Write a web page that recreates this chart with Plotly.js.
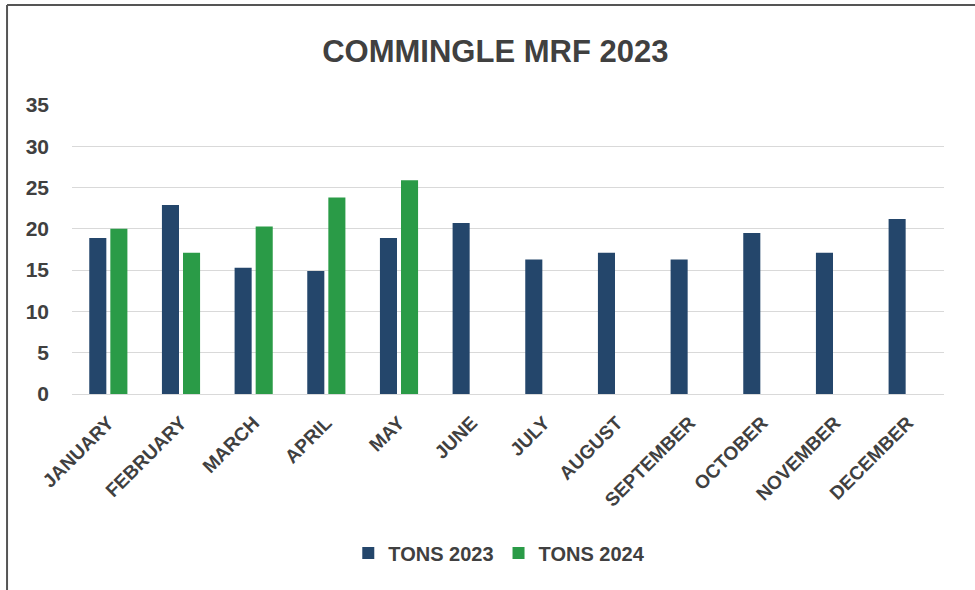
<!DOCTYPE html>
<html>
<head>
<meta charset="utf-8">
<script src="https://cdn.plot.ly/plotly-3.0.1.min.js"></script>
<style>html,body{margin:0;padding:0;background:#fff;}#chart{width:975px;height:590px;}</style>
</head>
<body>
<div id="chart"></div>
<script>
var months = ["JANUARY","FEBRUARY","MARCH","APRIL","MAY","JUNE","JULY","AUGUST","SEPTEMBER","OCTOBER","NOVEMBER","DECEMBER"];
var tons2023 = [18.9, 22.9, 15.3, 14.9, 18.9, 20.7, 16.3, 17.1, 16.3, 19.5, 17.1, 21.2];
var tons2024 = [20, 17.1, 20.3, 23.8, 25.9, null, null, null, null, null, null, null];
var yTicks = [0, 5, 10, 15, 20, 25, 30, 35];

var font = "Liberation Sans, Arial, sans-serif";
var textColor = "#404040";

var traces = [
  {type: "bar", name: "TONS 2023", x: months, y: tons2023, marker: {color: "#24466b"}, hoverinfo: "x+y"},
  {type: "bar", name: "TONS 2024", x: months, y: tons2024, marker: {color: "#2a9b47"}, hoverinfo: "x+y"}
];

var layout = {
  width: 975, height: 590,
  margin: {l: 72, r: 31, t: 105, b: 196},
  paper_bgcolor: "#ffffff", plot_bgcolor: "#ffffff",
  barmode: "group", bargap: 0.42, bargroupgap: 0.19,
  font: {family: font, color: textColor},
  title: {text: "<b>COMMINGLE MRF 2023</b>", font: {family: font, size: 31, color: textColor},
          x: 0.508, xanchor: "center", y: 0.914, yanchor: "middle", xref: "container", yref: "container"},
  xaxis: {type: "category", tickangle: -45, tickfont: {family: font, size: 19, color: textColor, weight: "bold"},
          showgrid: false, showline: false, zeroline: false, ticks: "", ticklabelstandoff: 13},
  yaxis: {range: [0, 35], tickvals: yTicks, ticktext: yTicks.map(String), showgrid: true, gridcolor: "#d9d9d9", gridwidth: 1,
          zeroline: true, zerolinecolor: "#d9d9d9", zerolinewidth: 1, showline: false, ticks: "",
          tickfont: {family: font, size: 21, color: textColor, weight: "bold"}, ticklabelstandoff: 22},
  showlegend: true,
  legend: {orientation: "h", x: 0.49, xanchor: "center", y: -0.55, yanchor: "middle",
           font: {family: font, size: 20, color: textColor, weight: "bold"}, itemwidth: 30, traceorder: "normal"},
  shapes: [
    {type: "line", xref: "paper", yref: "paper", x0: -0.0745, x1: -0.0745, y0: 1.346, y1: -0.7, line: {color: "#555555", width: 2}},
    {type: "line", xref: "paper", yref: "paper", x0: -0.0745, x1: 1.04, y0: 1.346, y1: 1.346, line: {color: "#555555", width: 2}}
  ]
};

Plotly.newPlot("chart", traces, layout, {displayModeBar: false, staticPlot: true});
</script>
</body>
</html>
